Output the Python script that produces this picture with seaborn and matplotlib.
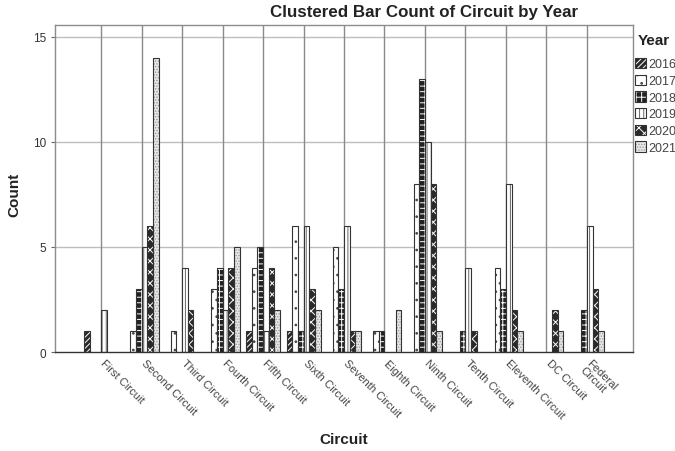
import matplotlib
matplotlib.use("Agg")
import matplotlib.pyplot as plt
import matplotlib.transforms as mtransforms
from matplotlib.patches import Patch, Rectangle
import seaborn as sns
import pandas as pd

circuits = ["First Circuit", "Second Circuit", "Third Circuit", "Fourth Circuit",
            "Fifth Circuit", "Sixth Circuit", "Seventh Circuit", "Eighth Circuit",
            "Ninth Circuit", "Tenth Circuit", "Eleventh Circuit", "DC Circuit",
            "Federal\nCircuit"]
years = ["2016", "2017", "2018", "2019", "2020", "2021"]

c2016 = [1, 0, 0, 0, 1, 1, 0, 0, 0, 0, 0, 0, 0]
c2017 = [0, 1, 1, 3, 4, 6, 5, 1, 8, 0, 4, 0, 0]
c2018 = [0, 3, 0, 4, 5, 1, 3, 1, 13, 1, 3, 0, 2]
c2019 = [2, 5, 4, 2, 1, 6, 6, 0, 10, 4, 8, 0, 6]
c2020 = [0, 6, 2, 4, 4, 3, 1, 0, 8, 1, 2, 2, 3]
c2021 = [0, 14, 0, 5, 2, 2, 1, 2, 1, 0, 1, 1, 1]

series = [c2016, c2017, c2018, c2019, c2020, c2021]
rows = []
for y, vals in zip(years, series):
    for c, v in zip(circuits, vals):
        rows.append({"Circuit": c, "Year": y, "Count": v})
df = pd.DataFrame(rows)

# face, hatch, hatch colour per year
styles = {
    "2016": ("#2a2a2a", "//////", "white"),
    "2017": ("white", "..", "#444444"),
    "2018": ("#222222", "+++", "white"),
    "2019": ("white", "||||", "#666666"),
    "2020": ("#2a2a2a", "xxx", "white"),
    "2021": ("#e8e8e8", "......", "#9a9a9a"),
}

sns.set_style("white")
plt.rcParams["font.family"] = ["Liberation Sans", "DejaVu Sans"]
plt.rcParams["hatch.linewidth"] = 0.7

fig = plt.figure(figsize=(6.75, 4.52), dpi=100)
ax = fig.add_axes([0.0815, 0.219, 0.8563, 0.7235])

sns.barplot(data=df, x="Circuit", y="Count", hue="Year", order=circuits,
            hue_order=years, width=0.84, ax=ax, legend=False,
            palette=["white"] * 6, errorbar=None)

for y, cont in zip(years, ax.containers):
    fc, h, hc = styles[y]
    for p in cont:
        p.set_facecolor(fc)
        p.set_hatch(h)
        p.set_edgecolor(hc)
        p.set_linewidth(0)
        p.set_zorder(3)
        if p.get_height() > 0:
            outline = Rectangle(p.get_xy(), p.get_width(), p.get_height(),
                                fill=False, edgecolor="#333333", linewidth=0.8,
                                zorder=4)
            ax.add_patch(outline)

ax.set_xlim(-1.14, 13.14)
ax.set_ylim(0, 15.55)
ax.set_yticks([0, 5, 10, 15])
ax.grid(False)
for v in [5, 10, 15]:
    ax.axhline(v, color="#bdbdbd", linewidth=1.0, zorder=1)
for i in range(len(circuits)):
    ax.axvline(i, color="#8a8a8a", linewidth=1.0, zorder=2)

for s in ax.spines.values():
    s.set_color("#8c8c8c")
    s.set_linewidth(1.0)
ax.spines["bottom"].set_color("#333333")
ax.spines["bottom"].set_zorder(5)

ax.tick_params(axis="y", labelsize=8.5, colors="#333333", length=3, left=True,
               color="#666666")
ax.tick_params(axis="x", length=0, pad=4)
ax.set_xticks(range(len(circuits)))
ax.set_xticklabels(circuits, rotation=-45, ha="left", rotation_mode="anchor",
                   fontsize=8, color="#444444", linespacing=0.95)
offset = mtransforms.ScaledTranslation(5 / 100, 0, fig.dpi_scale_trans)
for lab in ax.get_xticklabels():
    lab.set_transform(lab.get_transform() + offset)

ax.set_xlabel("")
ax.set_ylabel("")
fig.text(0.0215, 0.568, "Count", rotation=90, ha="center", va="center",
         fontsize=11, fontweight="bold", color="#222222")
fig.text(0.509, 0.026, "Circuit", ha="center", va="center",
         fontsize=11, fontweight="bold", color="#222222")
fig.text(424 / 675, 0.972, "Clustered Bar Count of Circuit by Year", ha="center",
         va="center", fontsize=12.2, fontweight="bold", color="#222222")

fig.text(638 / 675, 1 - 41 / 452, "Year", ha="left", va="center",
         fontsize=11, fontweight="bold", color="#222222")

handles = []
for y in years:
    fc, h, hc = styles[y]
    handles.append((Patch(facecolor=fc, hatch=h, edgecolor=hc, linewidth=0),
                    Patch(fill=False, edgecolor="#333333", linewidth=0.8)))
leg = fig.legend(handles=handles, labels=years, loc="upper left",
                 bbox_to_anchor=(635 / 675, 1 - 59 / 452), frameon=False,
                 fontsize=9, handlelength=0.9, handleheight=0.9,
                 handletextpad=0.15, labelspacing=0.33, borderaxespad=0,
                 borderpad=0)
for t in leg.get_texts():
    t.set_color("#444444")

fig.savefig("out.png", dpi=100)
